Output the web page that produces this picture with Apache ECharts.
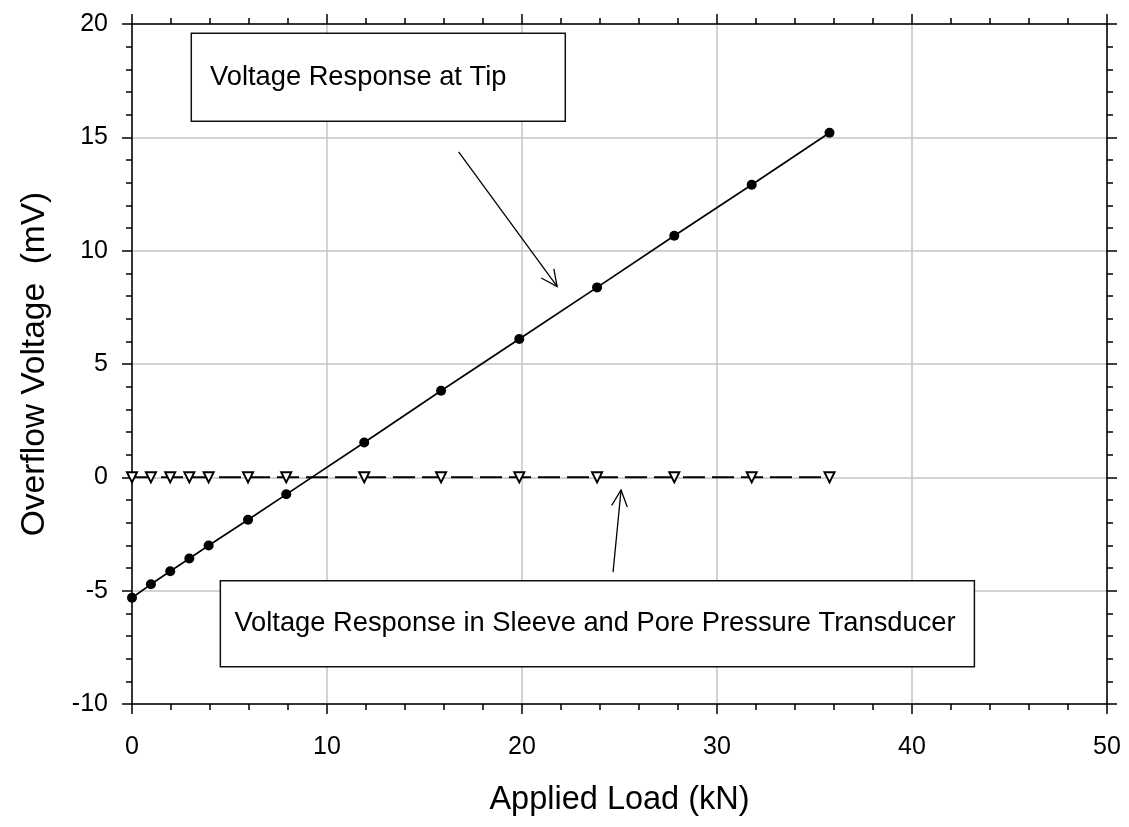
<!DOCTYPE html>
<html>
<head>
<meta charset="utf-8">
<script src="https://cdn.jsdelivr.net/npm/echarts@6/dist/echarts.min.js"></script>
<style>
  html, body { margin: 0; padding: 0; background: #fff; }
  #chart { width: 1129px; height: 827px; }
</style>
</head>
<body>
<div id="chart"></div>
<script>
// ---- data ----
const appliedLoad = [0, 0.97, 1.96, 2.94, 3.93, 5.95, 7.91, 11.91, 15.85, 19.86, 23.85, 27.81, 31.78, 35.77];
const tipVoltage = [-5.31, -4.72, -4.14, -3.58, -3.01, -1.87, -0.75, 1.54, 3.82, 6.10, 8.38, 10.66, 12.91, 15.2];
const sleeveVoltage = [0, 0, 0, 0, 0, 0, 0, 0, 0, 0, 0, 0, 0, 0];

const xTitle = 'Applied Load (kN)';
const yTitle = 'Overflow Voltage  (mV)';
const tipLabel = 'Voltage Response at Tip';
const sleeveLabel = 'Voltage Response in Sleeve and Pore Pressure Transducer';

// annotation placement (data coordinates)
const tipBox = { x1: 3.04, y1: 19.59, x2: 22.22, y2: 15.71, tx: 4.0 };
const sleeveBox = { x1: 4.53, y1: -4.56, x2: 43.2, y2: -8.36, tx: 5.25 };
const tipArrow = { from: [16.75, 14.36], to: [21.8, 8.42] };
const sleeveArrow = { from: [24.67, -4.18], to: [25.08, -0.56] };

const FONT = '"Liberation Sans", Arial, Helvetica, sans-serif';

const chart = echarts.init(document.getElementById('chart'), null, { renderer: 'canvas' });

function pairs(xs, ys) { return xs.map((x, i) => [x, ys[i]]); }

const axisCommon = {
  type: 'value',
  axisLine: { show: true, onZero: false, lineStyle: { color: '#000', width: 1.5 } },
  axisTick: { show: true, inside: false, length: 10, lineStyle: { color: '#000', width: 1.5 } },
  minorTick: { show: true, splitNumber: 5, length: 6, lineStyle: { color: '#000', width: 1.5 } },
  minorSplitLine: { show: false }
};

const option = {
  backgroundColor: '#fff',
  animation: false,
  grid: { left: 132, right: 22, top: 24, bottom: 123, containLabel: false },
  xAxis: [
    Object.assign({}, axisCommon, {
      position: 'bottom', min: 0, max: 50, interval: 10,
      name: xTitle, nameLocation: 'middle', nameGap: 80,
      nameTextStyle: { fontFamily: FONT, fontSize: 32.5, color: '#000' },
      axisLabel: { show: true, margin: 31, fontFamily: FONT, fontSize: 25, color: '#000' },
      splitLine: { show: true, lineStyle: { color: '#c4c4c4', width: 1.5 } }
    }),
    Object.assign({}, axisCommon, {
      position: 'top', min: 0, max: 50, interval: 10,
      axisLabel: { show: false }, splitLine: { show: false }
    })
  ],
  yAxis: [
    Object.assign({}, axisCommon, {
      position: 'left', min: -10, max: 20, interval: 5,
      name: yTitle, nameLocation: 'middle', nameGap: 80,
      nameTextStyle: { fontFamily: FONT, fontSize: 33.5, color: '#000' },
      axisLabel: { show: true, margin: 24, fontFamily: FONT, fontSize: 25, color: '#000' },
      splitLine: { show: true, lineStyle: { color: '#c4c4c4', width: 1.5 } }
    }),
    Object.assign({}, axisCommon, {
      position: 'right', min: -10, max: 20, interval: 5,
      axisLabel: { show: false }, splitLine: { show: false }
    })
  ],
  series: [
    {
      name: 'Tip', type: 'line', xAxisIndex: 0, yAxisIndex: 0,
      data: pairs(appliedLoad, tipVoltage),
      symbol: 'circle', symbolSize: 10,
      lineStyle: { color: '#000', width: 1.7 },
      itemStyle: { color: '#000', borderWidth: 0 },
      z: 3
    },
    {
      name: 'Sleeve', type: 'line', xAxisIndex: 0, yAxisIndex: 0,
      data: pairs(appliedLoad, sleeveVoltage),
      symbol: 'triangle', symbolRotate: 180, symbolSize: 10,
      lineStyle: { color: '#000', width: 2, type: [22, 7] },
      itemStyle: { color: '#fff', borderColor: '#000', borderWidth: 2 },
      z: 4
    }
  ]
};

chart.setOption(option);

function px(pt) { return chart.convertToPixel({ xAxisIndex: 0, yAxisIndex: 0 }, pt); }

function boxGraphics(b, label) {
  const p1 = px([b.x1, b.y1]);
  const p2 = px([b.x2, b.y2]);
  const pt = px([b.tx, (b.y1 + b.y2) / 2]);
  return [
    {
      type: 'rect', z: 50,
      shape: { x: p1[0], y: p1[1], width: p2[0] - p1[0], height: p2[1] - p1[1] },
      style: { fill: '#fff', stroke: '#111', lineWidth: 1.5 }
    },
    {
      type: 'text', z: 51, x: pt[0], y: pt[1],
      style: { text: label, fill: '#000', font: '27.3px ' + FONT, textAlign: 'left', textVerticalAlign: 'middle', verticalAlign: 'middle' }
    }
  ];
}

function arrowGraphics(a) {
  const s = px(a.from);
  const e = px(a.to);
  const ang = Math.atan2(e[1] - s[1], e[0] - s[0]);
  const L = 18, spread = 0.45;
  const h1 = [e[0] - L * Math.cos(ang - spread), e[1] - L * Math.sin(ang - spread)];
  const h2 = [e[0] - L * Math.cos(ang + spread), e[1] - L * Math.sin(ang + spread)];
  return [
    { type: 'line', z: 52, shape: { x1: s[0], y1: s[1], x2: e[0], y2: e[1] }, style: { stroke: '#000', lineWidth: 1.3 } },
    { type: 'polyline', z: 52, shape: { points: [h1, e, h2] }, style: { stroke: '#000', lineWidth: 1.3, fill: null } }
  ];
}

chart.setOption({
  graphic: [].concat(
    boxGraphics(tipBox, tipLabel),
    boxGraphics(sleeveBox, sleeveLabel),
    arrowGraphics(tipArrow),
    arrowGraphics(sleeveArrow)
  )
});
</script>
</body>
</html>
